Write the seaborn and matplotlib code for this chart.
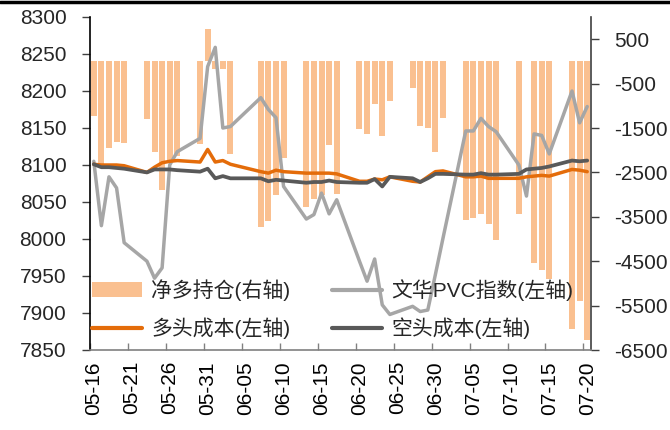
import matplotlib

matplotlib.use("Agg")

import matplotlib.pyplot as plt
import numpy as np
import pandas as pd
import seaborn as sns
from matplotlib.lines import Line2D
from matplotlib.patches import Patch

# trading days, 2011 (06-06 was the Dragon Boat holiday)
dates = [
    "2011-05-16", "2011-05-17", "2011-05-18", "2011-05-19", "2011-05-20",
    "2011-05-23", "2011-05-24", "2011-05-25", "2011-05-26", "2011-05-27",
    "2011-05-30", "2011-05-31", "2011-06-01", "2011-06-02", "2011-06-03",
    "2011-06-07", "2011-06-08", "2011-06-09", "2011-06-10",
    "2011-06-13", "2011-06-14", "2011-06-15", "2011-06-16", "2011-06-17",
    "2011-06-20", "2011-06-21", "2011-06-22", "2011-06-23", "2011-06-24",
    "2011-06-27", "2011-06-28", "2011-06-29", "2011-06-30", "2011-07-01",
    "2011-07-04", "2011-07-05", "2011-07-06", "2011-07-07", "2011-07-08",
    "2011-07-11", "2011-07-12", "2011-07-13", "2011-07-14", "2011-07-15",
    "2011-07-18", "2011-07-19", "2011-07-20",
]

pvc_index = [
    8105, 8018, 8084, 8069, 7995,
    7970, 7947, 7961, 8100, 8118,
    8136, 8233, 8259, 8150, 8152,
    8191, 8175, 8164, 8071,
    8027, 8033, 8062, 8034, 8053,
    7970, 7943, 7973, 7911, 7898,
    7909, 7902, 7904, 7952, 8001,
    8146, 8146, 8163, 8152, 8145,
    8100, 8058, 8142, 8140, 8115,
    8200, 8157, 8179,
]

long_cost = [
    8101, 8100, 8100, 8100, 8099,
    8090, 8097, 8103, 8105, 8106,
    8104, 8121, 8104, 8106, 8101,
    8091, 8089, 8093, 8091,
    8089, 8089, 8089, 8089, 8088,
    8078, 8078, 8081, 8080, 8084,
    8078, 8077, 8084, 8091, 8092,
    8084, 8084, 8085, 8082, 8082,
    8082, 8084, 8085, 8086, 8085,
    8094, 8093, 8091,
]

short_cost = [
    8101, 8097, 8097, 8096, 8095,
    8090, 8094, 8094, 8094, 8093,
    8091, 8095, 8082, 8085, 8082,
    8082, 8078, 8080, 8079,
    8076, 8077, 8077, 8079, 8077,
    8076, 8076, 8081, 8071, 8084,
    8082, 8077, 8082, 8088, 8088,
    8087, 8087, 8089, 8087, 8087,
    8088, 8094, 8095, 8096, 8098,
    8106, 8105, 8106,
]

net_long = [
    -1240, -2330, -1960, -1820, -1840,
    -1290, -2030, -2890, -2260, -2140,
    -1850, 735, -170, -165, -2080,
    -3720, -3590, -3000, -2170,
    -3280, -3100, -3010, -1880, -2980,
    -1530, -1640, -970, -1690, -890,
    -610, -1460, -1490, -2050, -1280,
    -3580, -3530, -3430, -3670, -4030,
    -3440, np.nan, -4540, -4690, -4900,
    -6030, -5390, -6270,
]

tick_labels = [
    "05-16", "05-21", "05-26", "05-31", "06-05", "06-10", "06-15",
    "06-20", "06-25", "06-30", "07-05", "07-10", "07-15", "07-20",
]

BAR_COLOR = "#FAC090"
PVC_COLOR = "#A6A6A6"
LONG_COLOR = "#E46C0A"
SHORT_COLOR = "#595959"

sns.set_theme(style="white")
plt.rcParams["font.family"] = ["Liberation Sans", "Noto Sans CJK SC"]
plt.rcParams["axes.unicode_minus"] = False
plt.rcParams["font.size"] = 15

day = pd.to_datetime(pd.Series(dates))
start = pd.Timestamp("2011-05-16")
df = pd.DataFrame(
    {
        "pos": (day - start).dt.days + 0.5,
        "pvc": pvc_index,
        "long": long_cost,
        "short": short_cost,
        "net": net_long,
    }
)

fig = plt.figure(figsize=(6.7, 4.3), dpi=100)
ax = fig.add_axes([90 / 670, 1 - 350 / 430, 501 / 670, 333 / 430])
ax2 = ax.twinx()

sns.barplot(
    data=df.dropna(subset=["net"]),
    x="pos",
    y="net",
    native_scale=True,
    width=0.79,
    color=BAR_COLOR,
    saturation=1,
    errorbar=None,
    linewidth=0,
    ax=ax2,
)

sns.lineplot(data=df, x="pos", y="pvc", color=PVC_COLOR, lw=2.5, ax=ax)
sns.lineplot(data=df, x="pos", y="long", color=LONG_COLOR, lw=2.5, ax=ax)
sns.lineplot(data=df, x="pos", y="short", color=SHORT_COLOR, lw=2.7, ax=ax)

ax.set_zorder(ax2.get_zorder() + 1)
ax.patch.set_visible(False)

ax.set_xlim(0, 66)
ax.set_ylim(7850, 8300)
ax2.set_ylim(-6500, 1000)
ax.set_yticks(np.arange(7850, 8301, 50))
ax2.set_yticks(np.arange(-6500, 501, 1000))

ax.set_xticks(np.arange(0, 66, 5) + 0.5)
ax.set_xticklabels(tick_labels, rotation=90)
ax.set_xticks(np.arange(0, 66, 5), minor=True)
ax.tick_params(axis="x", which="major", length=0, pad=8, labelsize=15, colors="black")
ax.tick_params(axis="x", which="minor", direction="in", length=5, width=1, color="#808080", bottom=True)
ax.tick_params(axis="y", direction="out", length=6, width=1, pad=11, labelsize=15, color="#404040", left=True)
ax2.tick_params(axis="y", direction="out", length=6, width=1, pad=11, labelsize=15, color="#404040", right=True)

for name in ["top", "right"]:
    ax.spines[name].set_visible(False)
for name in ["top", "left", "bottom"]:
    ax2.spines[name].set_visible(False)
ax.spines["left"].set_color("black")
ax.spines["bottom"].set_color("#808080")
ax2.spines["right"].set_color("#404040")
for s in [ax.spines["left"], ax.spines["bottom"], ax2.spines["right"]]:
    s.set_linewidth(1.2)

ax.set_xlabel("")
ax.set_ylabel("")
ax2.set_xlabel("")
ax2.set_ylabel("")

handles = [
    Patch(facecolor=BAR_COLOR, edgecolor="none"),
    Line2D([], [], color=LONG_COLOR, lw=3),
    Line2D([], [], color=PVC_COLOR, lw=3),
    Line2D([], [], color=SHORT_COLOR, lw=3),
]
labels = ["净多持仓(右轴)", "多头成本(左轴)", "文华PVC指数(左轴)", "空头成本(左轴)"]
ax.legend(
    handles,
    labels,
    ncol=2,
    loc="upper left",
    bbox_to_anchor=(0.004, 0.213),
    frameon=False,
    fontsize=15,
    handlelength=2.4,
    handletextpad=0.45,
    columnspacing=2.0,
    labelspacing=0.8,
    borderpad=0,
    borderaxespad=0,
)

fig.add_artist(Line2D([0, 1], [0.995, 0.995], transform=fig.transFigure, color="black", lw=2.5))

fig.savefig("out.png", dpi=100)
